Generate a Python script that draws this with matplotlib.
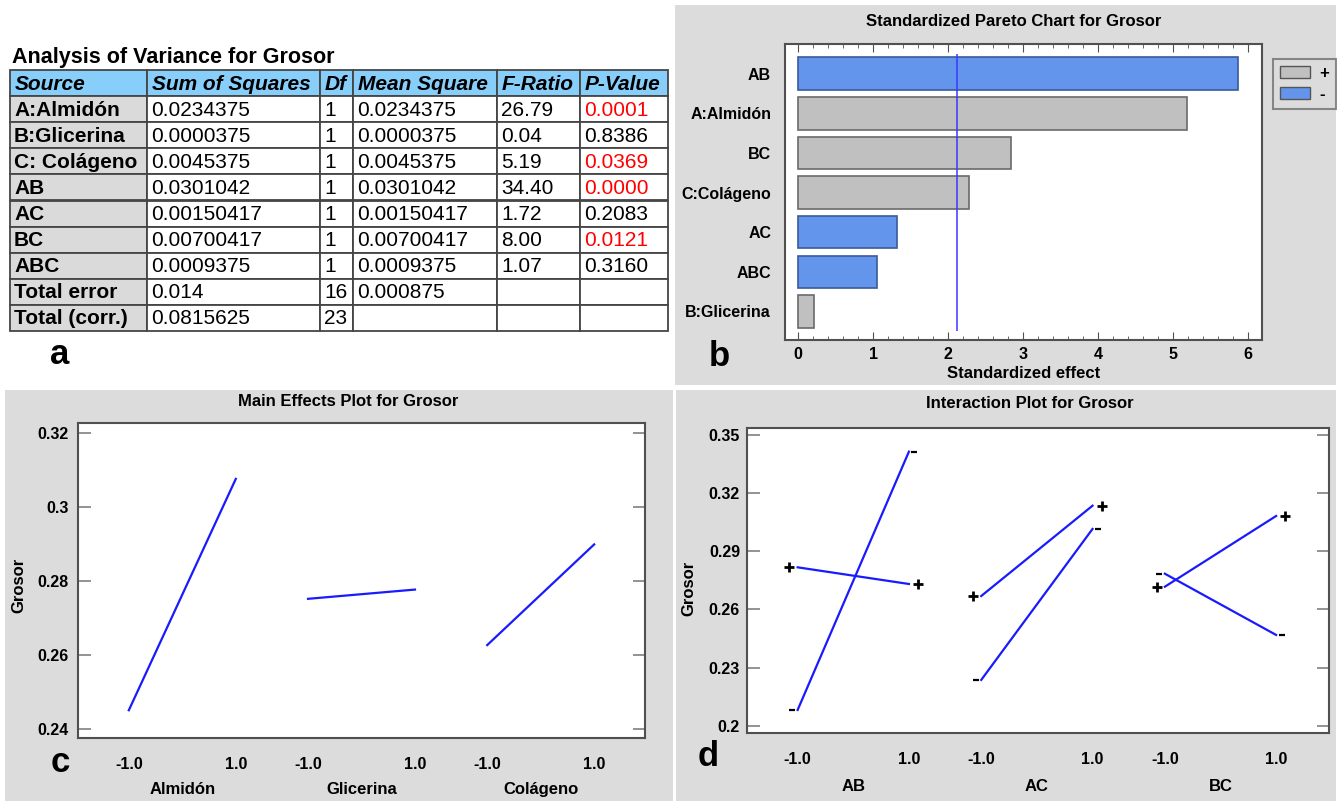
import numpy as np
import matplotlib.pyplot as plt
from matplotlib.patches import Rectangle, Patch
from matplotlib.ticker import MultipleLocator, FormatStrFormatter
from matplotlib.transforms import ScaledTranslation

plt.rcParams['font.family'] = ['Liberation Sans', 'DejaVu Sans']
plt.rcParams['font.weight'] = 'bold'

# ---- data ----
# (a) ANOVA table
anova_cols = ["Source", "Sum of Squares", "Df", "Mean Square", "F-Ratio", "P-Value"]
sources = ["A:Almidón", "B:Glicerina", "C: Colágeno", "AB", "AC", "BC", "ABC",
           "Total error", "Total (corr.)"]
sum_sq = ["0.0234375", "0.0000375", "0.0045375", "0.0301042", "0.00150417",
          "0.00700417", "0.0009375", "0.014", "0.0815625"]
dfs = ["1", "1", "1", "1", "1", "1", "1", "16", "23"]
mean_sq = ["0.0234375", "0.0000375", "0.0045375", "0.0301042", "0.00150417",
           "0.00700417", "0.0009375", "0.000875", ""]
f_ratio = ["26.79", "0.04", "5.19", "34.40", "1.72", "8.00", "1.07", "", ""]
p_value = ["0.0001", "0.8386", "0.0369", "0.0000", "0.2083", "0.0121", "0.3160", "", ""]

# (b) Pareto chart
pareto_labels = ["AB", "A:Almidón", "BC", "C:Colágeno", "AC", "ABC", "B:Glicerina"]
pareto_effects = [5.87, 5.19, 2.84, 2.28, 1.32, 1.05, 0.21]
pareto_signs = ["-", "+", "+", "+", "-", "-", "+"]
critical = 2.12

# (c) main effects
factors = ["Almidón", "Glicerina", "Colágeno"]
levels = [-1.0, 1.0]
main_low = [0.2451, 0.2752, 0.2627]
main_high = [0.3076, 0.2777, 0.2899]
main_yticks = [0.24, 0.26, 0.28, 0.30, 0.32]

# (d) interactions
pairs = ["AB", "AC", "BC"]
plus_low = [0.2817, 0.2669, 0.2717]
plus_high = [0.2731, 0.3135, 0.3082]
minus_low = [0.2081, 0.2236, 0.2784]
minus_high = [0.3414, 0.3015, 0.2468]
inter_yticks = [0.20, 0.23, 0.26, 0.29, 0.32, 0.35]

# ---- figure ----
W, H = 1337, 801
fig = plt.figure(figsize=(W / 100, H / 100), dpi=100)
bg = fig.add_axes([0, 0, 1, 1])
bg.set_xlim(0, W)
bg.set_ylim(H, 0)
bg.axis('off')

def rect(x0, y0, x1, y1):
    return [x0 / W, 1 - y1 / H, (x1 - x0) / W, (y1 - y0) / H]

panel_gray = '#dcdcdc'
blue_line = '#1a1aff'
for x0, y0, x1, y1 in [(675, 5, 1336, 385), (5, 390, 673, 801), (676, 390, 1336, 801)]:
    bg.add_patch(Rectangle((x0, y0), x1 - x0, y1 - y0, facecolor=panel_gray, edgecolor='none'))

# ---- (a) table ----
col_x = [10, 147, 320, 353, 497, 580, 668]
row_y = np.linspace(70, 331, 11)
columns = [sources, sum_sq, dfs, mean_sq, f_ratio, p_value]
bg.text(12, 58, "Analysis of Variance for Grosor", fontsize=15.5, fontweight='bold', va='center')
for r in range(len(row_y) - 1):
    for c in range(len(col_x) - 1):
        if r == 0:
            fc = '#87cefa'
        elif c == 0:
            fc = '#dadada'
        else:
            fc = 'white'
        bg.add_patch(Rectangle((col_x[c], row_y[r]), col_x[c + 1] - col_x[c], row_y[r + 1] - row_y[r],
                               facecolor=fc, edgecolor='#454545', lw=1.3))
        yc = (row_y[r] + row_y[r + 1]) / 2
        if r == 0:
            bg.text(col_x[c] + 5, yc + 1, anova_cols[c], fontsize=15, fontweight='bold',
                    fontstyle='italic', va='center')
        else:
            s = columns[c][r - 1]
            color = 'black'
            if c == 5 and s and float(s) < 0.05:
                color = '#ff0000'
            bg.text(col_x[c] + 4, yc + 1, s, fontsize=15, va='center', color=color,
                    fontweight='bold' if c == 0 else 'normal')

# ---- (b) Pareto ----
ax_b = fig.add_axes(rect(785, 44, 1262, 340))
ypos = np.arange(len(pareto_labels))
bar_colors = ['#c0c0c0' if s == '+' else '#6495ed' for s in pareto_signs]
bar_edges = ['#6a6a6a' if s == '+' else '#3a5a9a' for s in pareto_signs]
ax_b.barh(ypos, pareto_effects, height=0.82, color=bar_colors, edgecolor=bar_edges, linewidth=1.2)
ax_b.vlines(critical, -0.5, 6.5, color='#3a3aff', lw=1.3, alpha=0.85)
ax_b.set_xlim(-0.175, 6.19)
ax_b.set_ylim(6.72, -0.75)
ax_b.set_yticks(ypos, pareto_labels, fontsize=11.5, fontweight='bold')
ax_b.tick_params(axis='y', length=0, pad=10)
ax_b.xaxis.set_major_locator(MultipleLocator(1))
ax_b.xaxis.set_minor_locator(MultipleLocator(0.2))
ax_b.tick_params(axis='x', which='both', direction='in', top=True, bottom=True,
                 labelsize=11.5, pad=5, color='#505050')
ax_b.tick_params(axis='x', which='major', length=6)
ax_b.tick_params(axis='x', which='minor', length=3)
for sp in ax_b.spines.values():
    sp.set_color('#505050')
    sp.set_linewidth(1.5)
bg.text(1014, 21, "Standardized Pareto Chart for Grosor", fontsize=12, fontweight='bold',
        ha='center', va='center')
bg.text(1024, 373, "Standardized effect", fontsize=12, fontweight='bold', ha='center', va='center')
leg = fig.legend([Patch(facecolor='#c0c0c0', edgecolor='#555555'),
                  Patch(facecolor='#6495ed', edgecolor='#555555')], ['+', '-'],
                 loc='upper left', bbox_to_anchor=(1273 / W, 1 - 59 / H), fontsize=12,
                 handlelength=1.8, handleheight=0.8, handletextpad=0.6, borderpad=0.4,
                 labelspacing=0.35, borderaxespad=0, fancybox=False)
leg.get_frame().set_facecolor(panel_gray)
leg.get_frame().set_edgecolor('#707070')
leg.get_frame().set_linewidth(1.5)

# ---- (c) main effects ----
ax_c = fig.add_axes(rect(78, 423, 645, 738))
step_c = 3.35
xt_c, xl_c = [], []
for i, f in enumerate(factors):
    xs = i * step_c + np.array(levels)
    ax_c.plot(xs, [main_low[i], main_high[i]], color=blue_line, lw=1.6)
    xt_c += list(xs)
    xl_c += ['%.1f' % lv for lv in levels]
    ax_c.text(i * step_c, -0.165, f, transform=ax_c.get_xaxis_transform(), ha='center',
              va='center', fontsize=12, fontweight='bold')
ax_c.set_xlim(-1.95, 2 * step_c + 1.95)
ax_c.set_ylim(0.2376, 0.3227)
ax_c.set_xticks(xt_c, xl_c)
ax_c.set_yticks(main_yticks)
ax_c.yaxis.set_major_formatter(FormatStrFormatter('%g'))
ax_c.tick_params(axis='x', length=0, pad=14, labelsize=11.5)
ax_c.tick_params(axis='y', direction='in', left=True, right=True, length=9, width=1.3,
                 color='#8a8a8a', pad=7, labelsize=11.5)
for sp in ax_c.spines.values():
    sp.set_color('#505050')
    sp.set_linewidth(1.5)
bg.text(348, 401, "Main Effects Plot for Grosor", fontsize=12, fontweight='bold',
        ha='center', va='center')
bg.text(19, 585, "Grosor", rotation=90, fontsize=12, fontweight='bold', ha='center', va='center')

# ---- (d) interactions ----
ax_d = fig.add_axes(rect(747, 428, 1329, 733))
step_d = 3.3
xt_d, xl_d = [], []

def mark(ax, x, y, sym, dx):
    tr = ax.transData + ScaledTranslation(dx / 72, 0, fig.dpi_scale_trans)
    if sym == '+':
        ax.plot(x, y, marker='+', ms=7, mew=2, color='black', transform=tr, clip_on=False)
    else:
        ax.plot(x, y, marker='_', ms=4.5, mew=1.6, color='black', transform=tr, clip_on=False)

for i, p in enumerate(pairs):
    xs = i * step_d + np.array(levels)
    ax_d.plot(xs, [plus_low[i], plus_high[i]], color=blue_line, lw=1.6)
    ax_d.plot(xs, [minus_low[i], minus_high[i]], color=blue_line, lw=1.6)
    mark(ax_d, xs[0], plus_low[i], '+', -6)
    mark(ax_d, xs[1], plus_high[i], '+', 6.5)
    mark(ax_d, xs[0], minus_low[i], '-', -4)
    mark(ax_d, xs[1], minus_high[i], '-', 4)
    xt_d += list(xs)
    xl_d += ['%.1f' % lv for lv in levels]
    ax_d.text(i * step_d, -0.177, p, transform=ax_d.get_xaxis_transform(), ha='center',
              va='center', fontsize=12, fontweight='bold')
ax_d.set_xlim(-1.91, 2 * step_d + 1.95)
ax_d.set_ylim(0.1962, 0.3536)
ax_d.set_xticks(xt_d, xl_d)
ax_d.set_yticks(inter_yticks)
ax_d.yaxis.set_major_formatter(FormatStrFormatter('%g'))
ax_d.tick_params(axis='x', length=0, pad=14, labelsize=11.5)
ax_d.tick_params(axis='y', direction='in', left=True, right=True, length=9, width=1.3,
                 color='#8a8a8a', pad=5, labelsize=11.5)
for sp in ax_d.spines.values():
    sp.set_color('#505050')
    sp.set_linewidth(1.5)
bg.text(1030, 403, "Interaction Plot for Grosor", fontsize=12, fontweight='bold',
        ha='center', va='center')
bg.text(689, 588, "Grosor", rotation=90, fontsize=12, fontweight='bold', ha='center', va='center')

# panel letters
for ch, x, y in [('a', 60, 355), ('b', 719, 356), ('c', 60, 763), ('d', 708, 757)]:
    bg.text(x, y, ch, fontsize=25, fontweight='bold', ha='center', va='center')

fig.savefig('out.png', dpi=100, facecolor='white')
